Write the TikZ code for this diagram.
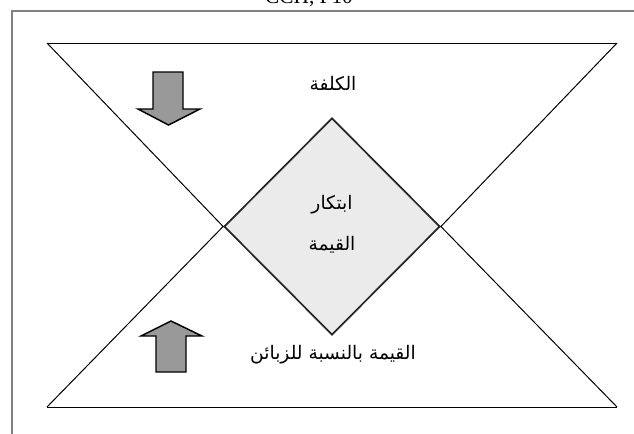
\documentclass[tikz,border=0pt]{standalone}
\usepackage{fontspec}
\setmainfont{Liberation Serif}
\newfontfamily\arabicfont[Script=Arabic]{DejaVu Sans}
\TeXXeTstate=1
\usetikzlibrary{shapes.geometric}
\definecolor{framegray}{RGB}{128,128,128}
\definecolor{arrowgray}{RGB}{153,153,153}
\definecolor{diafill}{RGB}{235,235,235}
\tikzset{
  hourglass/.style={draw=black, line width=0.75pt},
  blockarrow/.style={draw=black, fill=arrowgray, line width=1.1pt, line join=miter},
  corebox/.style={diamond, aspect=1, draw=black!85, fill=diafill, line width=1.3pt,
    minimum width=162pt, minimum height=162.75pt, inner sep=0pt},
  artext/.style={font=\arabicfont\fontsize{14}{16}\selectfont, inner sep=0pt}
}
\begin{document}
\begin{tikzpicture}[x=0.75pt,y=-0.75pt]
\useasboundingbox (0,0) rectangle (634,433);
\clip (0,0) rectangle (634,433);
% caption above the frame
\node[anchor=base, font=\fontsize{16}{18}\selectfont, inner sep=0pt] (cap) at (309,3.5) {CCH, P10};
% outer frame
\draw[framegray, line width=1.2pt] (12,11) rectangle (660,460);
% corners of the two triangles
\coordinate (tl) at (47,43);
\coordinate (tr) at (617,43);
\coordinate (bl) at (47,407);
\coordinate (br) at (617,407);
% central diamond
\node[corebox] (dia) at (332,226.5) {};
% triangle sides
\draw[hourglass] (tl) -- (tr);
\draw[hourglass] (bl) -- (br);
\draw[hourglass] (tl) -- (dia.west) -- (bl);
\draw[hourglass] (tr) -- (dia.east) -- (br);
% labels
\node[artext] (cost) at (333,83) {\beginR الكلفة\endR};
\node[artext] (innov1) at (332,205) {\beginR ابتكار\endR};
\node[artext] (innov2) at (332,245) {\beginR القيمة\endR};
\node[artext] (value) at (333,355) {\beginR القيمة بالنسبة للزبائن\endR};
% block arrows
\draw[blockarrow] (153,72) -- (183,72) -- (183,109) -- (200,109) -- (168.5,125)
  -- (138,109) -- (153,109) -- cycle;
\draw[blockarrow] (156,372) -- (186,372) -- (186,336) -- (202,336) -- (171,321)
  -- (141,336) -- (156,336) -- cycle;
\end{tikzpicture}
\end{document}
